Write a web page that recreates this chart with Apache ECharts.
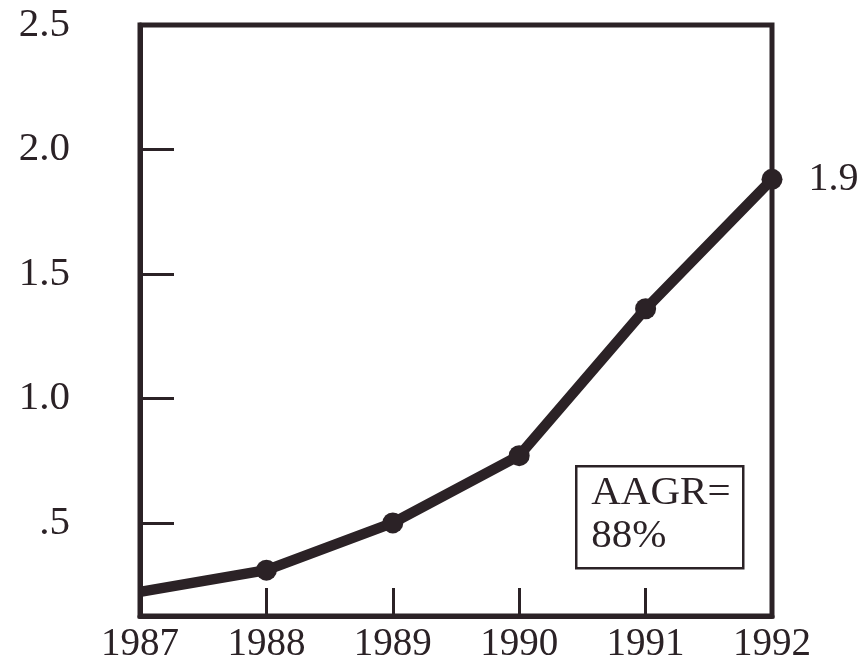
<!DOCTYPE html>
<html>
<head>
<meta charset="utf-8">
<script src="https://cdn.jsdelivr.net/npm/echarts@6/dist/echarts.min.js"></script>
<style>
  html, body { margin: 0; padding: 0; background: #fff; }
  #chart { width: 866px; height: 666px; }
</style>
</head>
<body>
<div id="chart"></div>
<script>
// data
const years = ['1987', '1988', '1989', '1990', '1991', '1992']
const values = [0.223, 0.31, 0.5, 0.77, 1.36, 1.88]
const yTickValues = [0.5, 1.0, 1.5, 2.0]
const yLabelValues = [0.5, 1.0, 1.5, 2.0, 2.5]
const yLabelTexts = ['.5', '1.0', '1.5', '2.0', '2.5']
const endLabel = '1.9'
const noteLines = ['AAGR=', '88%']

const ink = '#2b2226'
const serif = '"Liberation Serif", "DejaVu Serif", serif'

const chart = echarts.init(document.getElementById('chart'))

// first point has no dot, last one carries the value label
const seriesData = values.map((v, i) => {
  const item = { value: v }
  if (i === 0) item.symbol = 'none'
  if (i === values.length - 1) {
    item.label = {
      show: true,
      position: 'right',
      distance: 26,
      formatter: endLabel,
      color: ink,
      fontFamily: serif,
      fontSize: 40,
    }
  }
  return item
})

const option = {
  backgroundColor: '#ffffff',
  animation: false,
  grid: {
    left: 140,
    right: 94,
    top: 25,
    bottom: 50,
    show: true,
    borderColor: ink,
    borderWidth: 5,
  },
  xAxis: {
    type: 'category',
    data: years,
    boundaryGap: false,
    axisLine: { show: true, lineStyle: { color: ink, width: 5 } },
    axisTick: { show: true, inside: true, length: 28, lineStyle: { color: ink, width: 3 } },
    axisLabel: { color: ink, fontFamily: serif, fontSize: 39, margin: 9 },
    splitLine: { show: false },
  },
  yAxis: {
    type: 'value',
    min: 0.126,
    max: 2.5,
    axisLine: { show: true, lineStyle: { color: ink, width: 5 } },
    axisTick: {
      show: true,
      inside: true,
      length: 34,
      customValues: yTickValues,
      lineStyle: { color: ink, width: 3 },
    },
    axisLabel: {
      customValues: yLabelValues,
      formatter: v => {
        const i = yLabelValues.findIndex(x => Math.abs(x - v) < 1e-6)
        return i >= 0 ? yLabelTexts[i] : ''
      },
      color: ink,
      fontFamily: serif,
      fontSize: 41,
      margin: 70,
    },
    splitLine: { show: false },
  },
  series: [
    {
      type: 'line',
      data: seriesData,
      symbol: 'circle',
      symbolSize: 21,
      itemStyle: { color: ink },
      lineStyle: { color: ink, width: 10.5 },
      clip: false,
    },
  ],
  graphic: [
    {
      type: 'group',
      left: 575,
      top: 465,
      children: [
        {
          type: 'rect',
          shape: { x: 0, y: 0, width: 167, height: 102 },
          style: { fill: '#fff', stroke: ink, lineWidth: 2.5 },
        },
        {
          type: 'text',
          x: 15,
          y: 5,
          style: {
            text: noteLines.join('\n'),
            fill: ink,
            font: '41px ' + serif,
            lineHeight: 43,
          },
        },
      ],
    },
  ],
}

chart.setOption(option)
</script>
</body>
</html>
